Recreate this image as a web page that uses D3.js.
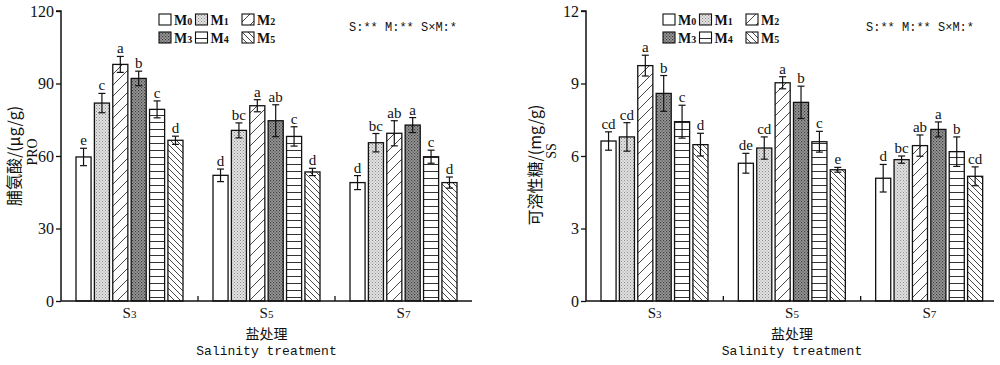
<!DOCTYPE html>
<html><head><meta charset="utf-8">
<script src="https://cdn.jsdelivr.net/npm/d3@7"></script>
<style>body{margin:0;background:#fff}svg{display:block}</style>
</head><body>
<svg id="c" width="1000" height="365"></svg>
<script>
const categories = ["S3", "S5", "S7"];
const series = ["M0", "M1", "M2", "M3", "M4", "M5"];

// Proline (PRO), µg/g — per salinity group, values for M0..M5
const proS3 = [59.6, 81.9, 97.9, 92.1, 79.3, 66.5];
const proS5 = [52.0, 70.6, 80.8, 74.6, 68.1, 53.4];
const proS7 = [49.0, 65.5, 69.4, 72.8, 59.7, 49.0];
const proErrS3 = [3.6, 4.0, 3.3, 3.0, 3.5, 1.7];
const proErrS5 = [2.6, 3.1, 2.5, 6.6, 4.0, 1.5];
const proErrS7 = [2.9, 3.8, 5.2, 3.1, 2.7, 2.3];
const proLetS3 = ["e", "c", "a", "b", "c", "d"];
const proLetS5 = ["d", "bc", "a", "ab", "c", "d"];
const proLetS7 = ["d", "bc", "ab", "a", "c", "d"];
const proTicks = [0, 30, 60, 90, 120];

// Soluble sugar (SS), mg/g
const ssS3 = [6.62, 6.79, 9.74, 8.59, 7.42, 6.47];
const ssS5 = [5.70, 6.33, 9.03, 8.22, 6.59, 5.43];
const ssS7 = [5.08, 5.85, 6.43, 7.10, 6.18, 5.16];
const ssErrS3 = [0.38, 0.59, 0.43, 0.74, 0.68, 0.47];
const ssErrS5 = [0.41, 0.46, 0.25, 0.67, 0.43, 0.10];
const ssErrS7 = [0.57, 0.15, 0.44, 0.31, 0.61, 0.39];
const ssLetS3 = ["cd", "cd", "a", "b", "c", "d"];
const ssLetS5 = ["de", "cd", "a", "b", "c", "e"];
const ssLetS7 = ["d", "bc", "ab", "a", "b", "cd"];
const ssTicks = [0, 3, 6, 9, 12];

const svg = d3.select("#c");
const defs = svg.append("defs");
const serif = "'Liberation Serif','Times New Roman',serif";
const mono = "'Liberation Mono','DejaVu Sans Mono',monospace";
const cjk = "'Noto Sans CJK SC',sans-serif";

// patterns
function pat(id, w, h, build) {
  const p = defs.append("pattern").attr("id", id).attr("patternUnits", "userSpaceOnUse")
    .attr("width", w).attr("height", h);
  build(p);
}
pat("pM1", 3, 3, p => {
  p.append("rect").attr("width", 3).attr("height", 3).attr("fill", "#e2e2e2");
  p.append("rect").attr("x", 0).attr("y", 0).attr("width", 1).attr("height", 1).attr("fill", "#8a8a8a");
  p.append("rect").attr("x", 1.5).attr("y", 1.5).attr("width", 1).attr("height", 1).attr("fill", "#9a9a9a");
});
pat("pM2", 11, 11, p => {
  p.append("rect").attr("width", 11).attr("height", 11).attr("fill", "#fff");
  p.append("path").attr("d", "M0,11L11,0M-2,2L2,-2M9,13L13,9").attr("stroke", "#333").attr("stroke-width", 0.9);
});
pat("pM3", 3, 3, p => {
  p.append("rect").attr("width", 3).attr("height", 3).attr("fill", "#9a9a9a");
  p.append("rect").attr("x", 0).attr("y", 0).attr("width", 1.2).attr("height", 1.2).attr("fill", "#3c3c3c");
  p.append("rect").attr("x", 1.5).attr("y", 1.5).attr("width", 1.2).attr("height", 1.2).attr("fill", "#4a4a4a");
});
pat("pM4", 10, 7, p => {
  p.append("rect").attr("width", 10).attr("height", 7).attr("fill", "#fff");
  p.append("line").attr("x1", 0).attr("x2", 10).attr("y1", 3.5).attr("y2", 3.5).attr("stroke", "#333").attr("stroke-width", 1);
});
pat("pM5", 6, 6, p => {
  p.append("rect").attr("width", 6).attr("height", 6).attr("fill", "#fff");
  p.append("path").attr("d", "M0,0L6,6M-2,4L2,8M4,-2L8,2").attr("stroke", "#333").attr("stroke-width", 0.9);
});
const fills = { M0: "#fff", M1: "url(#pM1)", M2: "url(#pM2)", M3: "url(#pM3)", M4: "url(#pM4)", M5: "url(#pM5)" };

function subText(sel, label, bigSize, smallSize) {
  sel.append("tspan").text(label.slice(0, 1));
  sel.append("tspan").attr("font-size", smallSize).text(label.slice(1));
}

function drawPanel(cfg) {
  const g = svg.append("g");
  const y = d3.scaleLinear().domain([0, cfg.max]).range([301, 11]);
  const x0 = d3.scaleBand().domain(categories).range([cfg.left, cfg.right]).padding(0);
  const x1 = d3.scaleBand().domain(series).range([15, 122]).paddingInner(0.18).paddingOuter(0);

  const data = [];
  categories.forEach((c, ci) => {
    series.forEach((s, si) => {
      data.push({ c, s, v: cfg.vals[ci][si], e: cfg.errs[ci][si], l: cfg.lets[ci][si] });
    });
  });

  // bars
  g.selectAll("rect.bar").data(data).join("rect")
    .attr("x", d => x0(d.c) + x1(d.s))
    .attr("y", d => y(d.v))
    .attr("width", x1.bandwidth())
    .attr("height", d => y(0) - y(d.v))
    .attr("fill", d => fills[d.s])
    .attr("stroke", "#111").attr("stroke-width", 1.3);

  // error bars
  const eb = g.selectAll("g.eb").data(data).join("g");
  eb.append("line")
    .attr("x1", d => x0(d.c) + x1(d.s) + x1.bandwidth() / 2)
    .attr("x2", d => x0(d.c) + x1(d.s) + x1.bandwidth() / 2)
    .attr("y1", d => y(d.v + d.e)).attr("y2", d => y(d.v - d.e))
    .attr("stroke", "#111").attr("stroke-width", 1.2);
  [1, -1].forEach(sg => {
    eb.append("line")
      .attr("x1", d => x0(d.c) + x1(d.s) + x1.bandwidth() / 2 - 3.5)
      .attr("x2", d => x0(d.c) + x1(d.s) + x1.bandwidth() / 2 + 3.5)
      .attr("y1", d => y(d.v + sg * d.e)).attr("y2", d => y(d.v + sg * d.e))
      .attr("stroke", "#111").attr("stroke-width", 1.2);
  });
  eb.append("text")
    .attr("x", d => x0(d.c) + x1(d.s) + x1.bandwidth() / 2)
    .attr("y", d => y(d.v + d.e) - 3)
    .attr("text-anchor", "middle").attr("font-family", serif).attr("font-size", 15)
    .attr("fill", "#111").text(d => d.l);

  // y axis
  const ya = g.append("g").attr("transform", `translate(${cfg.left},0)`)
    .call(d3.axisLeft(y).tickValues(cfg.ticks).tickSize(5).tickFormat(d3.format("d")));
  ya.select(".domain").attr("stroke", "#111").attr("stroke-width", 1.5).attr("d", `M-5,11H0V301`);
  ya.selectAll(".tick line").attr("stroke", "#111").attr("stroke-width", 1.3);
  ya.selectAll(".tick text").attr("font-family", serif).attr("font-size", 16).attr("fill", "#111").attr("x", -7);

  // x axis
  const xa = g.append("g").attr("transform", `translate(0,301)`)
    .call(d3.axisBottom(x0).tickSize(0).tickFormat(""));
  xa.select(".domain").attr("stroke", "#111").attr("stroke-width", 1.5).attr("d", `M${cfg.left},0H${cfg.axisEnd}`);
  categories.slice(1).forEach(c => {
    g.append("line").attr("x1", x0(c)).attr("x2", x0(c)).attr("y1", 301).attr("y2", 296)
      .attr("stroke", "#111").attr("stroke-width", 1.3);
  });
  categories.forEach(c => {
    const t = g.append("text").attr("x", x0(c) + x0.bandwidth() / 2).attr("y", 318)
      .attr("text-anchor", "middle").attr("font-family", serif).attr("font-size", 15).attr("fill", "#111");
    subText(t, c, 15, 11);
  });
  const cx = (cfg.left + cfg.right) / 2;
  g.append("text").attr("x", cx).attr("y", 339).attr("text-anchor", "middle")
    .attr("font-family", cjk).attr("font-size", 14).attr("fill", "#111").text("盐处理");
  g.append("text").attr("x", cx).attr("y", 355).attr("text-anchor", "middle")
    .attr("font-family", mono).attr("font-size", 13).attr("fill", "#111").text("Salinity treatment");

  // y titles
  g.append("text").attr("transform", `translate(${cfg.t1x},${cfg.t1y}) rotate(-90)`)
    .attr("text-anchor", "middle").attr("dominant-baseline", "central")
    .attr("font-family", cjk).attr("font-size", 16).attr("fill", "#111").text(cfg.title1);
  g.append("text").attr("transform", `translate(${cfg.t2x},${cfg.t2y}) rotate(-90)`)
    .attr("text-anchor", "middle").attr("dominant-baseline", "central")
    .attr("font-family", serif).attr("font-size", 14).attr("fill", "#111").text(cfg.title2);

  // legend
  const lx = [cfg.legX, cfg.legX + 36.5, cfg.legX + 83];
  const ly = [14, 32];
  series.forEach((s, i) => {
    const col = i % 3, row = Math.floor(i / 3);
    g.append("rect").attr("x", lx[col]).attr("y", ly[row]).attr("width", 12).attr("height", 11)
      .attr("fill", fills[s]).attr("stroke", "#111").attr("stroke-width", 1.1);
    const t = g.append("text").attr("x", lx[col] + 15).attr("y", ly[row] + 11)
      .attr("font-family", serif).attr("font-size", 14).attr("font-weight", "bold").attr("fill", "#111");
    subText(t, s, 14, 10);
  });
  g.append("text").attr("x", cfg.annX).attr("y", 31).attr("font-family", mono).attr("font-size", 12)
    .attr("fill", "#111").text("S:** M:** S×M:*");
}

drawPanel({
  left: 61, right: 472, axisEnd: 472, max: 120, ticks: proTicks,
  vals: [proS3, proS5, proS7], errs: [proErrS3, proErrS5, proErrS7], lets: [proLetS3, proLetS5, proLetS7],
  title1: "脯氨酸/(μg/g)", title2: "PRO", t1x: 13, t1y: 156, t2x: 32, t2y: 152,
  legX: 159, annX: 349
});
drawPanel({
  left: 586, right: 998, axisEnd: 994, max: 12, ticks: ssTicks,
  vals: [ssS3, ssS5, ssS7], errs: [ssErrS3, ssErrS5, ssErrS7], lets: [ssLetS3, ssLetS5, ssLetS7],
  title1: "可溶性糖/(mg/g)", title2: "SS", t1x: 534, t1y: 165, t2x: 551, t2y: 151,
  legX: 663, annX: 866
});
</script>
</body></html>
